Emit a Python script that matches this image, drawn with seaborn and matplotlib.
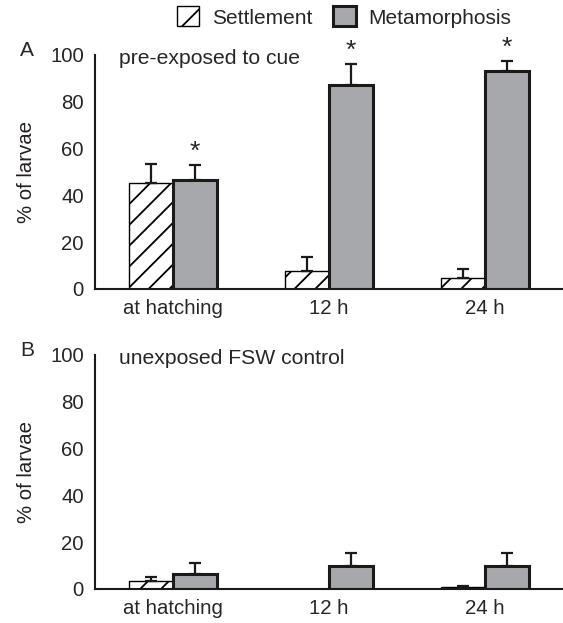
import matplotlib
matplotlib.use("Agg")
import matplotlib.pyplot as plt
import seaborn as sns
import pandas as pd
import numpy as np
from matplotlib.patches import Patch

sns.set_style("white")
plt.rcParams['font.family'] = ['Liberation Sans', 'DejaVu Sans']

DPI = 125
K = 100 / DPI  # keep sizes as if at 100 dpi
plt.rcParams['hatch.linewidth'] = 1.3 * K

categories = ["at hatching", "12 h", "24 h"]
types = ["Settlement", "Metamorphosis"]

a_settle = [45.5, 7.7, 4.7]
a_settle_err = [8.0, 5.9, 3.8]
a_meta = [46.4, 87.2, 93.2]
a_meta_err = [6.4, 9.0, 4.2]

b_settle = [3.5, 0.0, 1.0]
b_settle_err = [1.6, 0.0, 0.4]
b_meta = [6.4, 9.8, 9.8]
b_meta_err = [4.6, 5.5, 5.5]

panel_titles = ["pre-exposed to cue", "unexposed FSW control"]
panel_letters = ["A", "B"]

gray = "#a6a8ab"
FS = 14.7 * K

fig = plt.figure(figsize=(563 / DPI, 623 / DPI), dpi=DPI)
ax_a = fig.add_axes([95/563, (623-289)/623, 468/563, 234/623])
ax_b = fig.add_axes([95/563, (623-589)/623, 468/563, 234/623])

def draw(ax, settle, settle_err, meta, meta_err, title, letter, stars):
    df = pd.DataFrame({
        "cat": categories * 2,
        "type": [types[0]] * 3 + [types[1]] * 3,
        "val": settle + meta,
    })
    sns.barplot(data=df, x="cat", y="val", hue="type", order=categories,
                hue_order=types, palette={types[0]: "white", types[1]: gray},
                width=0.57, gap=0, ax=ax, legend=False, errorbar=None,
                saturation=1)
    patches = [p for p in ax.patches]
    errs = settle_err + meta_err
    vals = settle + meta
    for i, p in enumerate(patches[:6]):
        if i < 3:
            p.set_hatch("//")
            p.set_edgecolor("black")
            p.set_linewidth(1.0 * K)
        else:
            p.set_edgecolor("#1a1a1a")
            p.set_linewidth(2.2 * K)
        cx = p.get_x() + p.get_width() / 2
        if errs[i] > 0:
            ax.errorbar(cx, vals[i], yerr=[[0], [errs[i]]], fmt="none",
                        ecolor="#1a1a1a", elinewidth=1.6 * K, capsize=4 * K,
                        capthick=1.6 * K, zorder=1)
        if i >= 3 and stars[i - 3]:
            ax.text(cx, vals[i] + errs[i] + 0.5, "*", ha="center", va="bottom",
                    fontsize=19 * K)
    ax.set_ylim(0, 100)
    ax.set_xlim(-0.5, 2.5)
    ax.set_yticks([0, 20, 40, 60, 80, 100])
    ax.set_xticks([0, 1, 2])
    ax.set_xticklabels(categories)
    ax.set_xticks([0.5, 1.5], minor=True)
    ax.tick_params(axis="x", which="major", length=0, labelsize=FS, pad=7 * K)
    ax.tick_params(axis="x", which="minor", length=4 * K, width=1.2 * K,
                   direction="out", color="#1a1a1a")
    ax.tick_params(axis="y", length=5 * K, width=1.2 * K, direction="out",
                   labelsize=FS, color="#1a1a1a", pad=3 * K)
    ax.set_xlabel("")
    ax.set_ylabel("% of larvae", fontsize=FS, labelpad=10 * K, color="#231f20")
    for s in ["top", "right"]:
        ax.spines[s].set_visible(False)
    for s in ["left", "bottom"]:
        ax.spines[s].set_linewidth(1.5 * K)
        ax.spines[s].set_color("#1a1a1a")
    ax.text(0.052, 0.985, title, transform=ax.transAxes, fontsize=15.2 * K,
            ha="left", va="center")
    ax.text(-0.145, 1.02, letter, transform=ax.transAxes, fontsize=15 * K,
            ha="center", va="center")

draw(ax_a, a_settle, a_settle_err, a_meta, a_meta_err, panel_titles[0], panel_letters[0], [True, True, True])
draw(ax_b, b_settle, b_settle_err, b_meta, b_meta_err, panel_titles[1], panel_letters[1], [False, False, False])

handles = [Patch(facecolor="white", edgecolor="black", hatch="/", linewidth=1.0 * K),
           Patch(facecolor=gray, edgecolor="#1a1a1a", linewidth=2.2 * K)]
fig.legend(handles, types, loc="center", bbox_to_anchor=(344/563, 1 - 17/623),
           ncol=2, frameon=False, fontsize=15 * K, handlelength=1.1, handleheight=1.1,
           columnspacing=1.0, handletextpad=0.6)

fig.savefig("out.png", dpi=DPI)
